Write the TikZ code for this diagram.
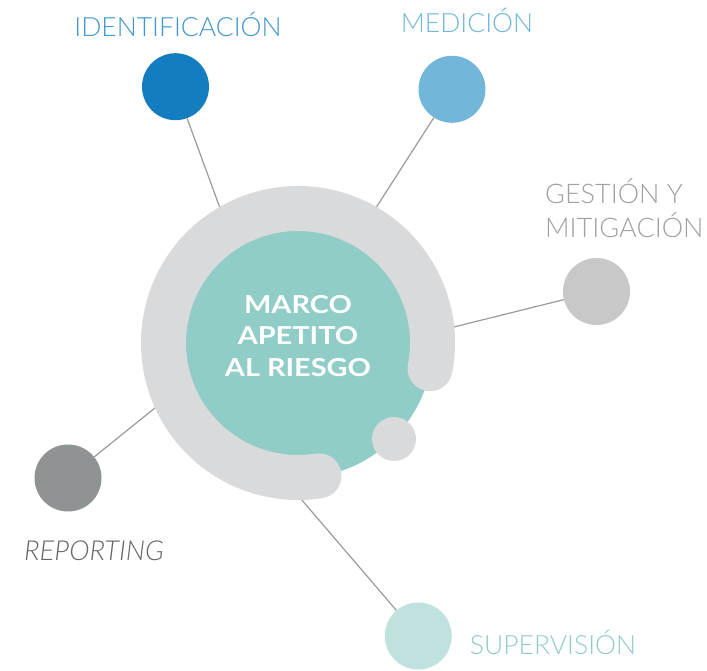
\documentclass[tikz,border=0pt]{standalone}
\usepackage{fontspec}
\setmainfont{Lato}
\newfontfamily\latolight{Lato Light}
\newfontfamily\titlefont{Lato}[FakeStretch=1.17]
\definecolor{identblue}{HTML}{147DC0}
\definecolor{medblue}{HTML}{72B7DA}
\definecolor{gestgray}{HTML}{C8C8C8}
\definecolor{repgray}{HTML}{8F9394}
\definecolor{supteal}{HTML}{BFE2DE}
\definecolor{coreteal}{HTML}{90CDC6}
\definecolor{ringgray}{HTML}{D9DADB}
\definecolor{linegray}{HTML}{9A9A9A}
\begin{document}
\begin{tikzpicture}[x=1pt,y=1pt,
  sat/.style={circle,minimum size=67pt,inner sep=0pt},
  link/.style={draw=linegray,line width=1.2pt},
  lbl/.style={font=\fontsize{26.5}{35}\selectfont\latolight,inner sep=0pt}]
  \useasboundingbox (0,0) rectangle (707,670);

  % Satellites
  \node[sat,fill=identblue] (ident) at (175.5,583.3) {};
  \node[sat,fill=medblue] (medic) at (452,580.7) {};
  \node[sat,fill=gestgray] (gest) at (596.5,378.5) {};
  \node[sat,fill=repgray] (report) at (68,192) {};
  \node[sat,fill=supteal] (superv) at (418.3,34) {};

  % Labels
  \node[lbl,anchor=base,text=identblue!80] at (178,633.3) {IDENTIFICACIÓN};
  \node[lbl,anchor=base,text=medblue] at (467,637.7) {MEDICIÓN};
  \node[lbl,anchor=base west,align=left,text=gestgray!80!black,
    font=\fontsize{27}{34.7}\selectfont\latolight] at (545,432)
    {GESTIÓN Y\\MITIGACIÓN};
  \node[lbl,anchor=base,text=repgray!70!black,
    font=\fontsize{27.5}{35}\selectfont\latolight] at (94,110) {\itshape REPORTING};
  \node[lbl,anchor=base,text=coreteal] at (553,15.7) {SUPERVISIÓN};

  % Ring end points of the links
  \coordinate (e1) at (224,451);
  \coordinate (e2) at (372,456);
  \coordinate (e3) at (445,340.8);
  \coordinate (e4) at (163,268.5);
  \coordinate (e5) at (295,178);
  \draw[link] (ident) -- (e1);
  \draw[link] (medic) -- (e2);
  \draw[link] (gest) -- (e3);
  \draw[link] (report) -- (e4);
  \draw[link] (superv) -- (e5);

  % Core and ring
  \node[circle,fill=coreteal,minimum size=270pt,inner sep=0pt] (core) at (298,327) {};
  \draw[ringgray,line width=45pt,line cap=round]
    ([shift={(-11:134.5)}]core.center) arc[start angle=-11,end angle=279,radius=134.5];
  \node[circle,fill=ringgray,minimum size=44pt,inner sep=0pt] (dot) at (394,231) {};
  \node[anchor=base,align=center,text=white,inner sep=0pt,
    font=\fontsize{24.7}{31.7}\selectfont\titlefont\bfseries] (title) at (298,293.3)
    {MARCO\\APETITO\\AL RIESGO};
\end{tikzpicture}
\end{document}
